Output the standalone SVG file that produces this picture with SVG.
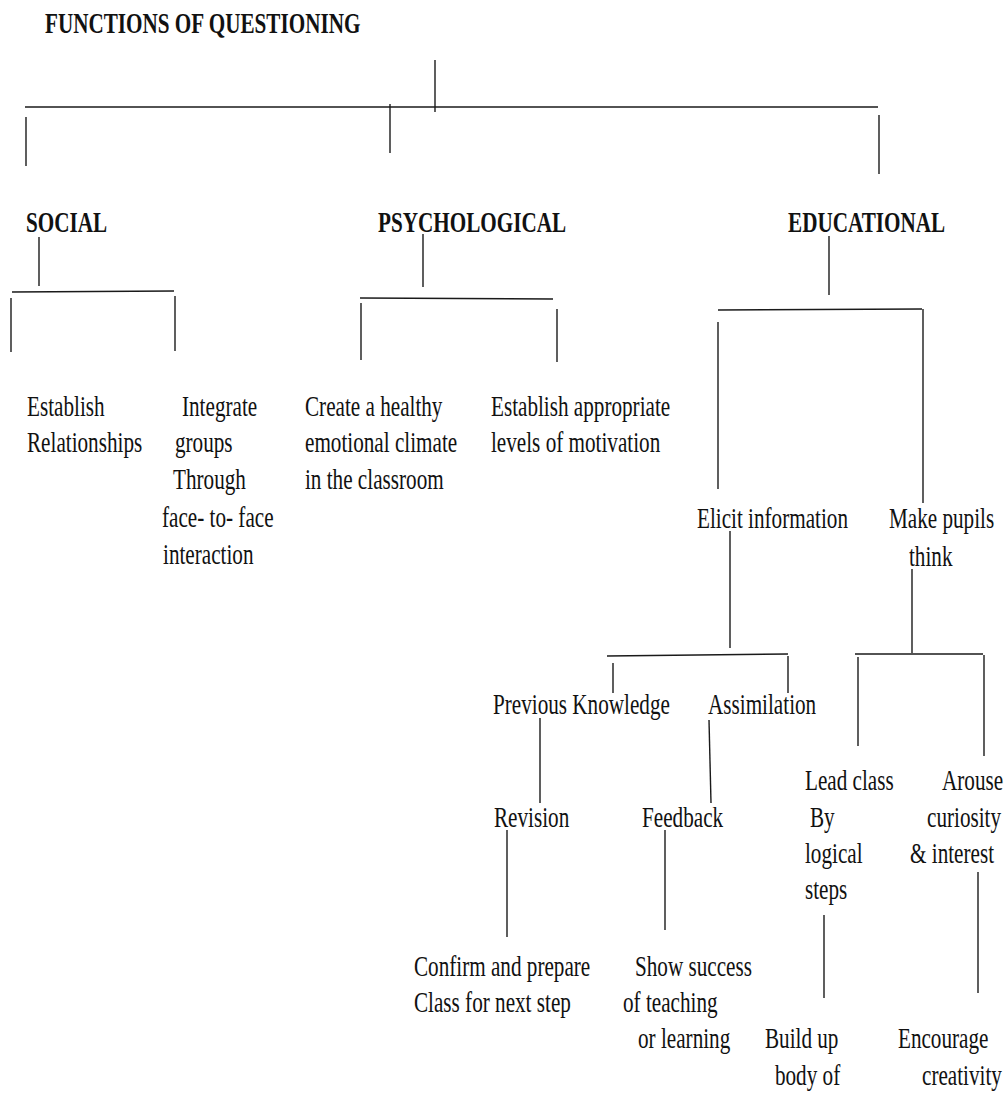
<svg xmlns="http://www.w3.org/2000/svg" width="1006" height="1098" viewBox="0 0 1006 1098">
<style>
text{font-family:"Liberation Serif","Times New Roman",serif;font-size:29px;fill:#111}
.b{font-weight:bold}
.c line{stroke:#1a1a1a;stroke-width:1.4;stroke-linecap:butt}
</style>
<rect width="1006" height="1098" fill="#fff"/>
<g id="connectors" class="c">
<line x1="435" y1="60" x2="435" y2="112"/>
<line x1="25" y1="107" x2="878" y2="107"/>
<line x1="26" y1="117" x2="26" y2="166"/>
<line x1="390" y1="104" x2="390" y2="153"/>
<line x1="879" y1="115" x2="879" y2="174"/>
<line x1="39" y1="237" x2="39" y2="286"/>
<line x1="12" y1="292" x2="174" y2="291"/>
<line x1="11" y1="298" x2="11" y2="352"/>
<line x1="175" y1="296" x2="175" y2="351"/>
<line x1="423" y1="234" x2="423" y2="287"/>
<line x1="360" y1="298" x2="553" y2="299"/>
<line x1="361" y1="303" x2="361" y2="360"/>
<line x1="557" y1="309" x2="557" y2="362"/>
<line x1="829" y1="236" x2="829" y2="295"/>
<line x1="718" y1="310" x2="922" y2="309"/>
<line x1="718" y1="322" x2="718" y2="489"/>
<line x1="923" y1="309" x2="923" y2="503"/>
<line x1="730" y1="531" x2="730" y2="648"/>
<line x1="607" y1="656" x2="788" y2="654"/>
<line x1="613" y1="663" x2="613" y2="693"/>
<line x1="788" y1="656" x2="788" y2="693"/>
<line x1="912" y1="569" x2="912" y2="653"/>
<line x1="855" y1="654" x2="983" y2="654"/>
<line x1="858" y1="657" x2="858" y2="746"/>
<line x1="984" y1="655" x2="984" y2="756"/>
<line x1="540" y1="718" x2="540" y2="803"/>
<line x1="709" y1="720" x2="711" y2="803"/>
<line x1="507" y1="830" x2="507" y2="937"/>
<line x1="665" y1="830" x2="665" y2="930"/>
<line x1="824" y1="915" x2="824" y2="998"/>
<line x1="978" y1="872" x2="978" y2="993"/>
</g>
<g id="title" transform="scale(0.73 1)"><text class="b" x="61.6" y="33">FUNCTIONS OF QUESTIONING</text></g>
<g id="social" transform="scale(0.73 1)"><text class="b" x="35.6" y="232">SOCIAL</text></g>
<g id="psychological" transform="scale(0.73 1)"><text class="b" x="517.8" y="232">PSYCHOLOGICAL</text></g>
<g id="educational" transform="scale(0.73 1)"><text class="b" x="1079.5" y="232">EDUCATIONAL</text></g>
<g id="establish-relationships" transform="scale(0.73 1)"><text><tspan x="37" y="416">Establish</tspan><tspan x="37" y="452">Relationships</tspan></text></g>
<g id="integrate-groups" transform="scale(0.73 1)"><text><tspan x="249.3" y="416">Integrate</tspan><tspan x="239.7" y="452">groups</tspan><tspan x="237" y="489">Through</tspan><tspan x="221.9" y="527">face- to- face</tspan><tspan x="223.3" y="564">interaction</tspan></text></g>
<g id="healthy-climate" transform="scale(0.73 1)"><text><tspan x="417.8" y="416">Create a healthy</tspan><tspan x="417.8" y="452">emotional climate</tspan><tspan x="417.8" y="489">in the classroom</tspan></text></g>
<g id="motivation" transform="scale(0.73 1)"><text><tspan x="672.6" y="416">Establish appropriate</tspan><tspan x="672.6" y="452">levels of motivation</tspan></text></g>
<g id="elicit-information" transform="scale(0.73 1)"><text x="954.8" y="528">Elicit information</text></g>
<g id="make-pupils-think" transform="scale(0.73 1)"><text><tspan x="1217.8" y="528">Make pupils</tspan><tspan x="1245.2" y="566">think</tspan></text></g>
<g id="previous-knowledge" transform="scale(0.73 1)"><text x="675.3" y="714">Previous Knowledge</text></g>
<g id="assimilation" transform="scale(0.73 1)"><text x="969.9" y="714">Assimilation</text></g>
<g id="revision" transform="scale(0.73 1)"><text x="676.7" y="827">Revision</text></g>
<g id="feedback" transform="scale(0.73 1)"><text x="879.5" y="827">Feedback</text></g>
<g id="confirm-prepare" transform="scale(0.73 1)"><text><tspan x="567.1" y="976">Confirm and prepare</tspan><tspan x="567.1" y="1012">Class for next step</tspan></text></g>
<g id="show-success" transform="scale(0.73 1)"><text><tspan x="869.9" y="976">Show success</tspan><tspan x="853.4" y="1012">of teaching</tspan><tspan x="874" y="1048">or learning</tspan></text></g>
<g id="lead-class" transform="scale(0.73 1)"><text><tspan x="1102.7" y="790">Lead class</tspan><tspan x="1109.6" y="827">By</tspan><tspan x="1102.7" y="863">logical</tspan><tspan x="1102.7" y="899">steps</tspan></text></g>
<g id="arouse-curiosity" transform="scale(0.73 1)"><text><tspan x="1290.4" y="790">Arouse</tspan><tspan x="1269.9" y="827">curiosity</tspan><tspan x="1246.6" y="863">&amp; interest</tspan></text></g>
<g id="build-up" transform="scale(0.73 1)"><text><tspan x="1047.9" y="1048">Build up</tspan><tspan x="1061.6" y="1085">body of</tspan></text></g>
<g id="encourage-creativity" transform="scale(0.73 1)"><text><tspan x="1230.1" y="1048">Encourage</tspan><tspan x="1263" y="1085">creativity</tspan></text></g>
</svg>
